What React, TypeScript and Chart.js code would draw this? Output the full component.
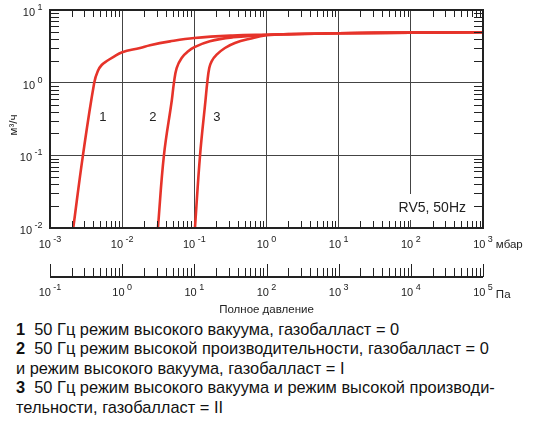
import { useEffect, useRef } from "react";
import { Chart, registerables } from "chart.js";

Chart.register(...registerables);

// кривые: давление (мбар) и быстрота откачки (м³/ч)
const curve1P = [0.0021, 0.00286, 0.0041, 0.0046, 0.0052, 0.0062, 0.0075, 0.01, 0.0177, 0.0243, 0.046, 0.1, 0.34, 1, 10, 100, 1000];
const curve1S = [0.01, 0.1, 1.0, 1.45, 1.75, 2.0, 2.25, 2.62, 3.0, 3.28, 3.7, 4.12, 4.45, 4.57, 4.78, 4.88, 4.93];

const curve2P = [0.0313, 0.0379, 0.0488, 0.0522, 0.0569, 0.0667, 0.0822, 0.1, 0.164, 0.343, 0.81, 1.2, 10, 100, 1000];
const curve2S = [0.01, 0.1, 0.578, 1.0, 1.59, 2.19, 2.7, 3.07, 3.71, 4.21, 4.49, 4.6, 4.78, 4.88, 4.93];

const curve3P = [0.102, 0.12, 0.143, 0.151, 0.161, 0.1736, 0.2037, 0.2655, 0.365, 0.589, 1, 2, 10, 100, 1000];
const curve3S = [0.01, 0.1, 0.578, 1.0, 1.59, 1.97, 2.43, 3.0, 3.52, 4.03, 4.49, 4.66, 4.78, 4.88, 4.93];

const curveNames = ["1", "2", "3"];
const curveNameP = [0.0054, 0.0267, 0.206];
const curveNameS = [0.33, 0.33, 0.33];

// подписи осей (показатели степени)
const mbarExponents = [-3, -2, -1, 0, 1, 2, 3];
const paExponents = [-1, 0, 1, 2, 3, 4, 5];
const speedExponents = [-2, -1, 0, 1];
const minorSteps = [2, 3, 4, 5, 6, 7, 8, 9];

const RED = "#e6332a";
const INK = "#222";
const FONT = "'Liberation Sans', Arial, sans-serif";

const toPoints = (p: number[], s: number[]) => p.map((v, i) => ({ x: v, y: s[i] }));

function drawPower(ctx: CanvasRenderingContext2D, exp: number, x: number, y: number, align: "center" | "right") {
  const base = "10";
  const sup = exp < 0 ? "-" + Math.abs(exp) : String(exp);
  ctx.font = `11px ${FONT}`;
  const wb = ctx.measureText(base).width;
  ctx.font = `9px ${FONT}`;
  const ws = ctx.measureText(sup).width;
  const gap = 2.5;
  const total = wb + gap + ws;
  const start = align === "center" ? x - total / 2 : x - total;
  ctx.textAlign = "left";
  ctx.textBaseline = "alphabetic";
  ctx.font = `11px ${FONT}`;
  ctx.fillText(base, start, y);
  ctx.font = `9px ${FONT}`;
  ctx.fillText(sup, start + wb + gap, y - 6);
  return start + total;
}

const decorations = {
  id: "decorations",
  afterDraw(chart: Chart) {
    const ctx = chart.ctx;
    const { left, right, top, bottom } = chart.chartArea;
    const x = chart.scales.x;
    const y = chart.scales.y;
    const pa = chart.scales.pa;
    ctx.save();
    ctx.fillStyle = INK;
    ctx.strokeStyle = INK;

    // подпись RV5 на белом фоне
    ctx.fillStyle = "#fff";
    ctx.fillRect(388, 194, 84, 26);
    ctx.fillStyle = INK;
    ctx.font = `14px ${FONT}`;
    ctx.textAlign = "right";
    ctx.textBaseline = "middle";
    ctx.fillText("RV5, 50Hz", 466, 208);

    // номера кривых
    ctx.font = `13px ${FONT}`;
    ctx.textAlign = "center";
    curveNames.forEach((name, i) => {
      ctx.fillText(name, x.getPixelForValue(curveNameP[i]), y.getPixelForValue(curveNameS[i]));
    });

    // мелкие риски внутри рамки
    ctx.lineWidth = 1;
    ctx.beginPath();
    for (let e = mbarExponents[0]; e < mbarExponents[mbarExponents.length - 1]; e++) {
      minorSteps.forEach((m) => {
        const px = Math.round(x.getPixelForValue(m * Math.pow(10, e))) + 0.5;
        ctx.moveTo(px, top);
        ctx.lineTo(px, top + 7);
        ctx.moveTo(px, bottom);
        ctx.lineTo(px, bottom - 7);
      });
    }
    for (let e = speedExponents[0]; e < speedExponents[speedExponents.length - 1]; e++) {
      minorSteps.forEach((m) => {
        const py = Math.round(y.getPixelForValue(m * Math.pow(10, e))) + 0.5;
        ctx.moveTo(left, py);
        ctx.lineTo(left + 9, py);
        ctx.moveTo(right, py);
        ctx.lineTo(right - 9, py);
      });
    }
    ctx.stroke();

    // рамка
    ctx.lineWidth = 2;
    ctx.strokeRect(left, top, right - left, bottom - top);

    // подписи мбар
    let end = 0;
    mbarExponents.forEach((e) => {
      end = drawPower(ctx, e, x.getPixelForValue(Math.pow(10, e)), bottom + 19.5, "center");
    });
    ctx.font = `11.5px ${FONT}`;
    ctx.textAlign = "left";
    ctx.fillText("мбар", end + 3, bottom + 20);

    // подписи м³/ч
    speedExponents.forEach((e) => {
      drawPower(ctx, e, left - 7.5, y.getPixelForValue(Math.pow(10, e)) + 6, "right");
    });

    // шкала Па
    const lineY = bottom + 49;
    ctx.lineWidth = 2;
    ctx.beginPath();
    ctx.moveTo(pa.left, lineY);
    ctx.lineTo(pa.right, lineY);
    ctx.stroke();
    ctx.lineWidth = 1;
    ctx.beginPath();
    for (let e = paExponents[0]; e <= paExponents[paExponents.length - 1]; e++) {
      const px = Math.round(pa.getPixelForValue(Math.pow(10, e))) + 0.5;
      ctx.moveTo(px, lineY);
      ctx.lineTo(px, lineY - 13);
      if (e === paExponents[paExponents.length - 1]) break;
      minorSteps.forEach((m) => {
        const mx = Math.round(pa.getPixelForValue(m * Math.pow(10, e))) + 0.5;
        ctx.moveTo(mx, lineY);
        ctx.lineTo(mx, lineY - 9);
      });
    }
    ctx.stroke();

    paExponents.forEach((e) => {
      end = drawPower(ctx, e, pa.getPixelForValue(Math.pow(10, e)), lineY + 19, "center");
    });
    ctx.font = `11.5px ${FONT}`;
    ctx.textAlign = "left";
    ctx.fillText("Па", end + 3, lineY + 20.5);

    ctx.font = `11.5px ${FONT}`;
    ctx.textAlign = "center";
    ctx.fillText("Полное давление", (left + right) / 2, lineY + 36);

    // заголовок оси Y
    ctx.translate(14, 125);
    ctx.rotate(-Math.PI / 2);
    ctx.textAlign = "center";
    ctx.textBaseline = "middle";
    ctx.font = `11.5px ${FONT}`;
    ctx.fillText("м³/ч", 0, 0);

    ctx.restore();
  },
};

function App() {
  const canvasRef = useRef<HTMLCanvasElement | null>(null);
  const chartRef = useRef<Chart | null>(null);

  useEffect(() => {
    if (!canvasRef.current) return;
    const decades = (exps: number[]) => exps.map((e) => ({ value: Math.pow(10, e) }));
    chartRef.current = new Chart(canvasRef.current, {
      type: "line",
      data: {
        datasets: [
          { data: toPoints(curve1P, curve1S) },
          { data: toPoints(curve2P, curve2S) },
          { data: toPoints(curve3P, curve3S) },
        ].map((d) => ({
          ...d,
          borderColor: RED,
          borderWidth: 2.6,
          pointRadius: 0,
          fill: false,
          tension: 0.4,
        })),
      },
      options: {
        responsive: false,
        animation: false,
        devicePixelRatio: 1,
        layout: { padding: { left: 50, right: 52, top: 10, bottom: 92 } },
        plugins: { legend: { display: false }, tooltip: { enabled: false } },
        scales: {
          x: {
            type: "logarithmic",
            min: 0.001,
            max: 1000,
            afterBuildTicks: (axis) => {
              axis.ticks = decades(mbarExponents);
            },
            ticks: { display: false },
            grid: { color: "#444", lineWidth: 1, drawTicks: false },
            border: { display: false },
          },
          pa: {
            type: "logarithmic",
            axis: "x",
            position: "bottom",
            min: 0.1,
            max: 100000,
            display: false,
          },
          y: {
            type: "logarithmic",
            min: 0.01,
            max: 10,
            afterBuildTicks: (axis) => {
              axis.ticks = decades(speedExponents);
            },
            ticks: { display: false },
            grid: { color: "#444", lineWidth: 1, drawTicks: false },
            border: { display: false },
          },
        },
      },
      plugins: [decorations],
    });
    return () => {
      chartRef.current?.destroy();
      chartRef.current = null;
    };
  }, []);

  const line = { margin: 0, lineHeight: "19.6px" };

  return (
    <div style={{ position: "absolute", left: 0, top: 0, width: 535, height: 433, background: "#fff", fontFamily: FONT, color: "#111" }}>
      <canvas ref={canvasRef} width={535} height={320} style={{ display: "block" }} />
      <div style={{ position: "absolute", left: 16, top: 319.5, fontSize: 16.4 }}>
        <p style={line}>
          <b>1</b>&nbsp;&nbsp;50 Гц режим высокого вакуума, газобалласт = 0
        </p>
        <p style={line}>
          <b>2</b>&nbsp;&nbsp;50 Гц режим высокой производительности, газобалласт = 0
        </p>
        <p style={line}>и режим высокого вакуума, газобалласт = I</p>
        <p style={line}>
          <b>3</b>&nbsp;&nbsp;50 Гц режим высокого вакуума и режим высокой производи-
        </p>
        <p style={line}>тельности, газобалласт = II</p>
      </div>
    </div>
  );
}

export default App;
